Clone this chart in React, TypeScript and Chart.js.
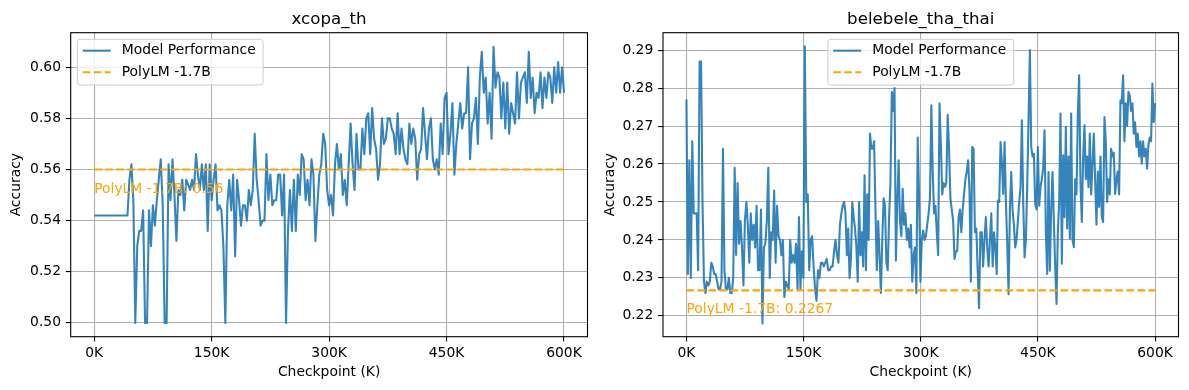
import { useEffect, useRef } from "react";
import { Chart, registerables } from "chart.js";

Chart.register(...registerables);

// ---------------- data ----------------
const checkpointMaxK = 600;
const xTickValuesK = [0, 150, 300, 450, 600];

// xcopa_th accuracy (checkpoint order)
const xcopaWarmup = [
  0.542, 0.542, 0.542, 0.542, 0.542, 0.542, 0.542, 0.542, 0.542, 0.542, 0.542, 0.542, 0.542, 0.542, 0.542, 0.542, 0.542, 0.542,
];
const xcopaEarly = [
  0.556, 0.562, 0.548, 0.5, 0.53, 0.536, 0.536, 0.544, 0.5, 0.5, 0.544, 0.53, 0.546, 0.538, 0.548, 0.556, 0.564, 0.546, 0.5, 0.5,
  0.562, 0.548, 0.564, 0.55, 0.532, 0.552, 0.55, 0.556, 0.544, 0.556, 0.554, 0.552, 0.556, 0.552, 0.566, 0.558, 0.552, 0.562, 0.552, 0.562,
  0.536, 0.562, 0.548, 0.556, 0.562, 0.544, 0.546, 0.544, 0.53, 0.5, 0.546, 0.556, 0.544, 0.558, 0.526, 0.556, 0.548, 0.538, 0.546, 0.546,
  0.54, 0.552, 0.546,
];
const xcopaMiddle = [
  0.552, 0.574, 0.556, 0.548, 0.538, 0.54, 0.54, 0.566, 0.548, 0.558, 0.546, 0.548, 0.548, 0.558, 0.558, 0.542, 0.558, 0.5, 0.536, 0.552,
  0.536, 0.556, 0.536, 0.558, 0.55, 0.566, 0.564, 0.548, 0.556, 0.546, 0.564, 0.558, 0.532, 0.546, 0.558, 0.562, 0.574, 0.57, 0.552, 0.546,
  0.55, 0.542, 0.562, 0.57, 0.56, 0.566, 0.55, 0.556, 0.546, 0.562, 0.578, 0.562, 0.552, 0.574, 0.56, 0.56, 0.576, 0.566, 0.58, 0.582,
  0.566, 0.584, 0.572, 0.568, 0.556, 0.562, 0.58, 0.57, 0.572, 0.58, 0.58, 0.576, 0.574, 0.566, 0.582, 0.566, 0.576, 0.568,
];
const xcopaLate = [
  0.564, 0.562, 0.578, 0.57, 0.576, 0.572, 0.556, 0.566, 0.568, 0.584, 0.574, 0.564, 0.576, 0.58, 0.564, 0.56, 0.564, 0.558, 0.578, 0.566,
  0.588, 0.59, 0.566, 0.574, 0.586, 0.558, 0.57, 0.578, 0.586, 0.576, 0.582, 0.582, 0.6, 0.564, 0.578, 0.58, 0.588, 0.57, 0.596, 0.606,
  0.59, 0.596, 0.578, 0.59, 0.572, 0.608, 0.592, 0.598, 0.596, 0.58, 0.594, 0.576, 0.594, 0.574, 0.586, 0.582, 0.578, 0.598, 0.58, 0.594,
  0.596, 0.598, 0.586, 0.606, 0.588, 0.596, 0.582, 0.59, 0.588, 0.598, 0.584, 0.596, 0.588, 0.598, 0.596, 0.586, 0.6, 0.59, 0.602, 0.59,
  0.6, 0.59,
];
const xcopaSegments = [xcopaWarmup, xcopaEarly, xcopaMiddle, xcopaLate];
// checkpoint range (K) covered by each segment above
const xcopaSpansK = [
  [0, 42.5],
  [45, 200],
  [202.5, 395],
  [397.5, 600],
];

// belebele_tha_thai accuracy (checkpoint order)
const belebeleEarly = [
  0.277, 0.231, 0.261, 0.23, 0.266, 0.247, 0.247, 0.247, 0.232, 0.287, 0.287, 0.25, 0.229, 0.226, 0.229, 0.228, 0.229, 0.234, 0.233, 0.231,
  0.231, 0.229, 0.227, 0.227, 0.229, 0.264, 0.232, 0.227, 0.227, 0.23, 0.226, 0.226, 0.23, 0.259, 0.236, 0.255, 0.239, 0.245, 0.238, 0.228,
  0.245, 0.25, 0.244, 0.234, 0.247, 0.24, 0.244, 0.238, 0.249, 0.232, 0.232, 0.248, 0.218, 0.238, 0.239, 0.245, 0.259, 0.23, 0.242, 0.24,
  0.253, 0.234, 0.249, 0.241, 0.24, 0.236, 0.24, 0.225, 0.229, 0.228, 0.227, 0.24, 0.234, 0.236, 0.234, 0.239, 0.227, 0.246, 0.227, 0.237,
  0.23, 0.291, 0.25, 0.252, 0.232, 0.24, 0.241, 0.233, 0.227, 0.224, 0.232, 0.23, 0.234, 0.234, 0.233, 0.234, 0.235, 0.232, 0.232, 0.233,
  0.233, 0.237, 0.24, 0.236, 0.234, 0.244,
];
const belebeleMiddle = [
  0.247, 0.249, 0.25, 0.247, 0.236, 0.243, 0.23, 0.235, 0.25, 0.246, 0.243, 0.238, 0.229, 0.25, 0.236, 0.242, 0.233, 0.257, 0.232, 0.252,
  0.24, 0.268, 0.264, 0.264, 0.266, 0.248, 0.232, 0.245, 0.236, 0.226, 0.24, 0.251, 0.249, 0.234, 0.232, 0.246, 0.255, 0.279, 0.274, 0.28,
  0.2345, 0.25, 0.261, 0.245, 0.241, 0.2535, 0.244, 0.247, 0.24, 0.243, 0.238, 0.244, 0.229, 0.236, 0.238, 0.226, 0.267, 0.252, 0.229, 0.24,
  0.2425, 0.24, 0.241, 0.244, 0.247, 0.251, 0.2755, 0.258, 0.247, 0.249, 0.242, 0.236, 0.276, 0.265, 0.252, 0.255, 0.254, 0.255, 0.273, 0.264,
  0.251, 0.248, 0.245, 0.235, 0.237, 0.237, 0.246, 0.248, 0.242, 0.248, 0.252, 0.256, 0.258, 0.261, 0.253, 0.229, 0.2645, 0.264, 0.242, 0.243,
  0.232, 0.222, 0.242, 0.242, 0.233, 0.24, 0.246, 0.238, 0.233, 0.24, 0.247, 0.233, 0.242, 0.238, 0.231,
];
const belebeleLate = [
  0.2504, 0.25, 0.2658, 0.2601, 0.2521, 0.2658, 0.25, 0.239, 0.2257, 0.248, 0.2579, 0.248, 0.244, 0.238, 0.24, 0.245, 0.25, 0.254, 0.2715, 0.25,
  0.2354, 0.24, 0.254, 0.272, 0.29, 0.2645, 0.262, 0.2627, 0.2495, 0.248, 0.2645, 0.249, 0.254, 0.256, 0.259, 0.2689, 0.242, 0.231, 0.2579, 0.2319,
  0.248, 0.2579, 0.245, 0.233, 0.2231, 0.242, 0.25, 0.2733, 0.2337, 0.2623, 0.246, 0.2698, 0.243, 0.262, 0.2403, 0.2733, 0.24, 0.2381, 0.256, 0.252,
  0.273, 0.2834, 0.255, 0.2447, 0.262, 0.2702, 0.256, 0.262, 0.2539, 0.268, 0.252, 0.26, 0.268, 0.256, 0.244, 0.258, 0.2487, 0.262, 0.246, 0.2447,
  0.2724, 0.266, 0.25, 0.256, 0.252, 0.264, 0.262, 0.263, 0.2521, 0.256, 0.258, 0.252, 0.2768, 0.276, 0.2834, 0.266, 0.276, 0.27, 0.279, 0.278,
  0.274, 0.276, 0.268, 0.271, 0.2645, 0.268, 0.262, 0.266, 0.2601, 0.266, 0.262, 0.264, 0.2588, 0.265, 0.267, 0.266, 0.2812, 0.271, 0.276,
];
const belebeleSegments = [belebeleEarly, belebeleMiddle, belebeleLate];
// checkpoint range (K) covered by each segment above
const belebeleSpansK = [
  [0, 196.5],
  [198.4, 397.3],
  [398.8, 600],
];

const xcopaYTicks = [0.5, 0.52, 0.54, 0.56, 0.58, 0.6];
const belebeleYTicks = [0.22, 0.23, 0.24, 0.25, 0.26, 0.27, 0.28, 0.29];

const xcopaBaseline = 0.56;
const belebeleBaseline = 0.2267;
const baselineName = "PolyLM -1.7B";
const seriesName = "Model Performance";

// ---------------- styling ----------------
const FONT = "'DejaVu Sans', 'Liberation Sans', sans-serif";
const FS = 13.89; // 10pt at 100 dpi
const TITLE_FS = 16.67; // 12pt
const CANVAS_H = 390;

type Panel = {
  title: string;
  segments: number[][];
  spans: number[][];
  yTicks: number[];
  yMin: number;
  yMax: number;
  baseline: number;
  baselineLabel: string;
  labelY: number;
  legendCentered: boolean;
  canvasLeft: number;
  canvasWidth: number;
  area: { left: number; top: number; right: number; bottom: number };
  yTitlePad: number;
};

const panels: Panel[] = [
  {
    title: "xcopa_th",
    segments: xcopaSegments,
    spans: xcopaSpansK,
    yTicks: xcopaYTicks,
    yMin: 0.4946,
    yMax: 0.6135,
    baseline: xcopaBaseline,
    baselineLabel: `${baselineName}: ${xcopaBaseline}`,
    labelY: 0.5522,
    legendCentered: false,
    canvasLeft: 0,
    canvasWidth: 595,
    area: { left: 70.7, top: 32.7, right: 587.5, bottom: 336.7 },
    yTitlePad: 7.7,
  },
  {
    title: "belebele_tha_thai",
    segments: belebeleSegments,
    spans: belebeleSpansK,
    yTicks: belebeleYTicks,
    yMin: 0.2145,
    yMax: 0.2946,
    baseline: belebeleBaseline,
    baselineLabel: `${baselineName}: ${belebeleBaseline}`,
    labelY: 0.2218,
    legendCentered: true,
    canvasLeft: 595,
    canvasWidth: 594,
    area: { left: 68, top: 32.7, right: 583.5, bottom: 336.7 },
    yTitlePad: 6.7,
  },
];

function buildSeries(p: Panel) {
  const out: { x: number; y: number }[] = [];
  p.segments.forEach((seg, si) => {
    const [a, b] = p.spans[si];
    const n = seg.length;
    seg.forEach((v, i) => out.push({ x: n > 1 ? a + ((b - a) * i) / (n - 1) : a, y: v }));
  });
  return out;
}

function decorPlugin(p: Panel) {
  return {
    id: "panelDecor",
    afterDatasetsDraw(chart: any) {
      const { ctx, chartArea: a, scales } = chart;
      ctx.save();
      ctx.font = `${FS}px ${FONT}`;
      ctx.fillStyle = "orange";
      ctx.textAlign = "left";
      ctx.textBaseline = "middle";
      ctx.fillText(p.baselineLabel, scales.x.getPixelForValue(0), scales.y.getPixelForValue(p.labelY));
      ctx.strokeStyle = "#000";
      ctx.lineWidth = 1.1;
      ctx.strokeRect(a.left, a.top, a.right - a.left, a.bottom - a.top);
      ctx.font = `${TITLE_FS}px ${FONT}`;
      ctx.fillStyle = "#000";
      ctx.textAlign = "center";
      ctx.textBaseline = "alphabetic";
      ctx.fillText(p.title, (a.left + a.right) / 2, a.top - 8.33);
      ctx.restore();
    },
    afterDraw(chart: any) {
      const { ctx, chartArea: a } = chart;
      ctx.save();
      ctx.font = `${FS}px ${FONT}`;
      const labels = [seriesName, baselineName];
      const textW = Math.max(...labels.map((l) => ctx.measureText(l).width));
      const w = 51.8 + textW;
      const h = 45.7;
      const lx = p.legendCentered ? (a.left + a.right) / 2 - w / 2 : a.left + 6.6;
      const ly = a.top + 6.6;
      const r = 2.8;
      ctx.beginPath();
      ctx.moveTo(lx + r, ly);
      ctx.lineTo(lx + w - r, ly);
      ctx.quadraticCurveTo(lx + w, ly, lx + w, ly + r);
      ctx.lineTo(lx + w, ly + h - r);
      ctx.quadraticCurveTo(lx + w, ly + h, lx + w - r, ly + h);
      ctx.lineTo(lx + r, ly + h);
      ctx.quadraticCurveTo(lx, ly + h, lx, ly + h - r);
      ctx.lineTo(lx, ly + r);
      ctx.quadraticCurveTo(lx, ly, lx + r, ly);
      ctx.closePath();
      ctx.fillStyle = "rgba(255,255,255,0.8)";
      ctx.fill();
      ctx.strokeStyle = "#cccccc";
      ctx.lineWidth = 1;
      ctx.stroke();
      const rows = [ly + 11.4, ly + 33];
      ctx.lineWidth = 2.08;
      ctx.strokeStyle = "rgba(31,119,180,0.9)";
      ctx.setLineDash([]);
      ctx.beginPath();
      ctx.moveTo(lx + 5.4, rows[0]);
      ctx.lineTo(lx + 33.4, rows[0]);
      ctx.stroke();
      ctx.strokeStyle = "orange";
      ctx.setLineDash([7.7, 3.3]);
      ctx.beginPath();
      ctx.moveTo(lx + 5.4, rows[1]);
      ctx.lineTo(lx + 33.4, rows[1]);
      ctx.stroke();
      ctx.setLineDash([]);
      ctx.fillStyle = "#000";
      ctx.textAlign = "left";
      ctx.textBaseline = "middle";
      ctx.fillText(labels[0], lx + 44.4, rows[0]);
      ctx.fillText(labels[1], lx + 44.4, rows[1]);
      ctx.restore();
    },
  };
}

function makeConfig(p: Panel): any {
  const series = buildSeries(p);
  const baselineData = [
    { x: 0, y: p.baseline },
    { x: checkpointMaxK, y: p.baseline },
  ];
  const gridOpts = {
    color: "#b0b0b0",
    lineWidth: 1.1,
    tickColor: "#000",
    tickLength: 4.86,
    tickWidth: 1.1,
  };
  const tickFont = { family: FONT, size: FS };
  return {
    type: "line",
    data: {
      datasets: [
        {
          label: baselineName,
          data: baselineData,
          borderColor: "orange",
          borderWidth: 2.08,
          borderDash: [7.7, 3.3],
          pointRadius: 0,
          order: 0,
        },
        {
          label: seriesName,
          data: series,
          borderColor: "rgba(31,119,180,0.9)",
          borderWidth: 2.08,
          borderJoinStyle: "round",
          pointRadius: 0,
          tension: 0,
          order: 1,
        },
      ],
    },
    options: {
      responsive: false,
      animation: false,
      events: [],
      layout: {
        autoPadding: false,
        padding: { left: 0, top: p.area.top, right: p.canvasWidth - p.area.right, bottom: 0 },
      },
      plugins: {
        legend: { display: false },
        tooltip: { enabled: false },
        title: { display: false },
      },
      scales: {
        x: {
          type: "linear",
          min: -30,
          max: 630,
          afterBuildTicks: (s: any) => {
            s.ticks = xTickValuesK.map((v) => ({ value: v }));
          },
          afterFit: (s: any) => {
            s.height = CANVAS_H - p.area.bottom;
          },
          ticks: {
            callback: (v: any) => `${v}K`,
            color: "#000",
            font: tickFont,
            padding: 3.5,
            maxRotation: 0,
            autoSkip: false,
          },
          grid: gridOpts,
          border: { display: false },
          title: {
            display: true,
            text: "Checkpoint (K)",
            color: "#000",
            font: tickFont,
            padding: { top: 0, bottom: 9.7 },
          },
        },
        y: {
          type: "linear",
          min: p.yMin,
          max: p.yMax,
          afterBuildTicks: (s: any) => {
            s.ticks = p.yTicks.map((v) => ({ value: v }));
          },
          afterFit: (s: any) => {
            s.width = p.area.left;
          },
          ticks: {
            callback: (v: any) => Number(v).toFixed(2),
            color: "#000",
            font: tickFont,
            padding: 4.86,
            autoSkip: false,
          },
          grid: gridOpts,
          border: { display: false },
          title: {
            display: true,
            text: "Accuracy",
            color: "#000",
            font: tickFont,
            padding: { top: p.yTitlePad, bottom: 0 },
          },
        },
      },
    },
    plugins: [decorPlugin(p)],
  };
}

export default function App() {
  const leftRef = useRef<HTMLCanvasElement>(null);
  const rightRef = useRef<HTMLCanvasElement>(null);

  useEffect(() => {
    const refs = [leftRef.current, rightRef.current];
    const charts = panels.map((p, i) => new Chart(refs[i] as HTMLCanvasElement, makeConfig(p)));
    return () => charts.forEach((c) => c.destroy());
  }, []);

  return (
    <div style={{ position: "fixed", left: 0, top: 0, width: 1189, height: CANVAS_H, background: "#fff" }}>
      {panels.map((p, i) => (
        <canvas
          key={p.title}
          ref={i === 0 ? leftRef : rightRef}
          width={p.canvasWidth}
          height={CANVAS_H}
          style={{ position: "absolute", left: p.canvasLeft, top: 0, width: p.canvasWidth, height: CANVAS_H, display: "block" }}
        />
      ))}
    </div>
  );
}
